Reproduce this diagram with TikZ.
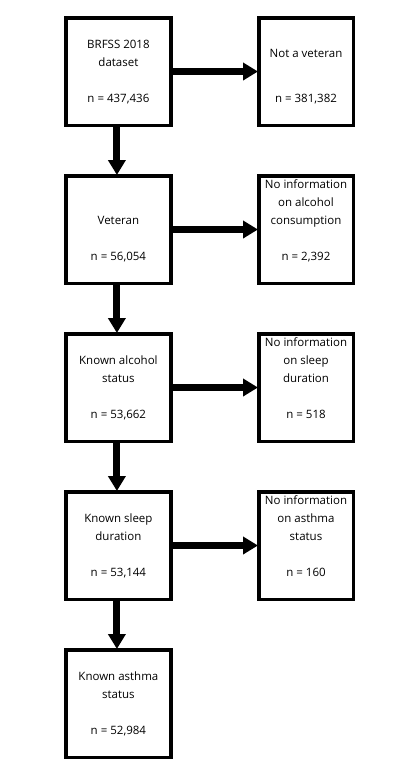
\documentclass[tikz,border=0pt]{standalone}
\usepackage{fontspec}
\setmainfont{Open Sans}
\usetikzlibrary{arrows.meta}
\begin{document}
\begin{tikzpicture}[x=1pt,y=-1pt,
  box/.style={draw, line width=3.5pt, minimum width=105pt, minimum height=107.5pt, inner sep=0pt},
  rbox/.style={box, minimum width=94.5pt},
  ln/.style={font=\fontsize{11.5}{14}\selectfont, inner sep=0pt, text height=8.5pt, text depth=2.5pt},
  arr/.style={line width=7pt, -{Triangle[width=17pt,length=15pt]}, shorten >=-1pt}]
\useasboundingbox (0,0) rectangle (417,774);
% boxes
\node[box]  (L1) at (118.4,71.5) {};
\node[rbox] (R1) at (306,71.5) {};
\node[box]  (L2) at (118.4,229.5) {};
\node[rbox] (R2) at (306,229.5) {};
\node[box]  (L3) at (118.4,387.5) {};
\node[rbox] (R3) at (306,387.5) {};
\node[box]  (L4) at (118.4,545.5) {};
\node[rbox] (R4) at (306,545.5) {};
\node[box]  (L5) at (118.4,703.5) {};
% texts
\node[ln] (l1a) at (118.4,45) {BRFSS 2018};
\node[ln] (l1b) at (118.4,63) {dataset};
\node[ln] (l1c) at (118.4,99) {n = 437,436};
\node[ln] (r1a) at (306,54) {Not a veteran};
\node[ln] (r1b) at (306,99) {n = 381,382};
\node[ln] (l2a) at (118.4,221) {Veteran};
\node[ln] (l2b) at (118.4,257) {n = 56,054};
\node[ln] (r2a) at (306,185) {No information};
\node[ln] (r2b) at (306,203) {on alcohol};
\node[ln] (r2c) at (306,221) {consumption};
\node[ln] (r2d) at (306,257) {n = 2,392};
\node[ln] (l3a) at (118.4,361) {Known alcohol};
\node[ln] (l3b) at (118.4,379) {status};
\node[ln] (l3c) at (118.4,415) {n = 53,662};
\node[ln] (r3a) at (306,343) {No information};
\node[ln] (r3b) at (306,361) {on sleep};
\node[ln] (r3c) at (306,379) {duration};
\node[ln] (r3d) at (306,415) {n = 518};
\node[ln] (l4a) at (118.4,519) {Known sleep};
\node[ln] (l4b) at (118.4,537) {duration};
\node[ln] (l4c) at (118.4,573) {n = 53,144};
\node[ln] (r4a) at (306,501) {No information};
\node[ln] (r4b) at (306,519) {on asthma};
\node[ln] (r4c) at (306,537) {status};
\node[ln] (r4d) at (306,573) {n = 160};
\node[ln] (l5a) at (118.4,677) {Known asthma};
\node[ln] (l5b) at (118.4,695) {status};
\node[ln] (l5c) at (118.4,731) {n = 52,984};
% arrows
\draw[arr] (L1.east) -- (R1.west);
\draw[arr] (L2.east) -- (R2.west);
\draw[arr] (L3.east) -- (R3.west);
\draw[arr] (L4.east) -- (R4.west);
\draw[arr] ([xshift=-1.5pt]L1.south) -- ([xshift=-1.5pt]L2.north);
\draw[arr] ([xshift=-1.5pt]L2.south) -- ([xshift=-1.5pt]L3.north);
\draw[arr] ([xshift=-1.5pt]L3.south) -- ([xshift=-1.5pt]L4.north);
\draw[arr] ([xshift=-1.5pt]L4.south) -- ([xshift=-1.5pt]L5.north);
\end{tikzpicture}
\end{document}
